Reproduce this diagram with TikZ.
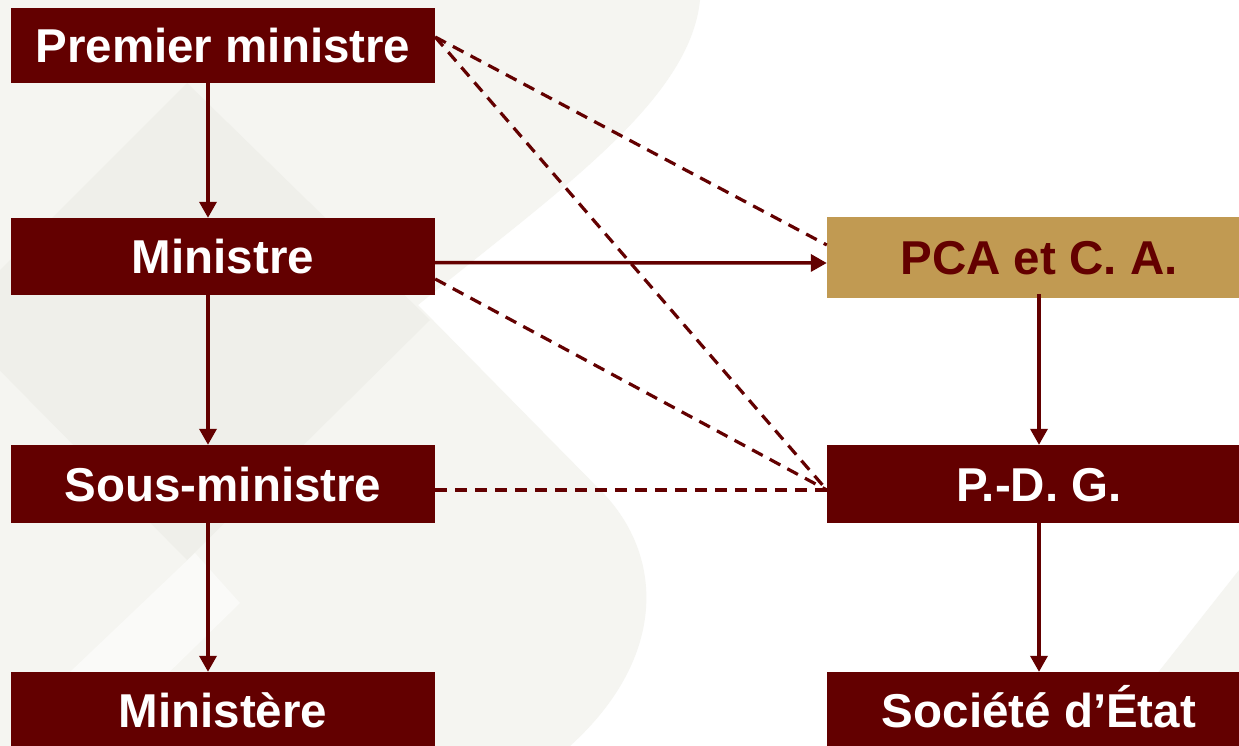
\documentclass[tikz,border=0pt]{standalone}
\usepackage{fontspec}
\setmainfont{Liberation Sans}
\usetikzlibrary{arrows.meta}
\definecolor{maroon}{RGB}{99,0,0}
\definecolor{tanfill}{RGB}{193,154,82}
\definecolor{bglight}{RGB}{245,245,241}
\definecolor{bgdark}{RGB}{239,239,234}
\begin{document}
\begin{tikzpicture}[x=1pt,y=-1pt,
  box/.style={rectangle, fill=maroon, text=white, minimum width=424pt,
    minimum height=76pt, inner sep=0pt, text height=34pt, text depth=0pt,
    font=\bfseries\fontsize{47.5}{56}\selectfont},
  tanbox/.style={box, fill=tanfill, text=maroon, minimum height=81pt},
  link/.style={draw=maroon, line width=3.5pt, -{Triangle[length=16pt,width=17pt]}},
  dlink/.style={draw=maroon, line width=3.2pt, dash pattern=on 12pt off 8pt}]
\useasboundingbox (0,0) rectangle (1239,746);
\fill[white] (0,0) rectangle (1239,746);
% faint watermark background
\fill[bglight] (0,0) -- (700,0) .. controls (690,100) and (560,190) .. (418,305)
  -- (605,495) .. controls (665,560) and (665,660) .. (570,746) -- (0,746) -- cycle;
\fill[bgdark] (187,83) -- (430,320) -- (187,560) -- (-50,320) -- cycle;
\fill[white!50!bglight] (195,553) -- (240,603) -- (110,730) -- (70,672) -- cycle;
\fill[bglight] (1239,570) -- (1100,746) -- (1239,746) -- cycle;
% nodes
\node[box, minimum height=75pt] (pm) at (223,45.5) {Premier ministre};
\node[box, minimum height=77pt] (min) at (223,256.5) {Ministre};
\node[box, minimum height=78pt] (sm) at (223,484) {Sous-ministre};
\node[box] (mre) at (223,710) {Ministère};
\node[tanbox] (pca) at (1039,257.5) {PCA et C. A.};
\node[box, minimum height=78pt] (pdg) at (1039,484) {P.-D. G.};
\node[box] (se) at (1039,710) {Société d’État};
% solid arrows
\draw[link] ([xshift=-15pt]pm.south) -- ([xshift=-15pt]min.north);
\draw[link] ([xshift=-15pt]min.south) -- ([xshift=-15pt]sm.north);
\draw[link] ([xshift=-15pt]sm.south) -- ([xshift=-15pt]mre.north);
\draw[link] ([yshift=-6pt]min.east) -- ([yshift=-5.5pt]pca.west);
\draw[link] ([yshift=4pt]pca.south) -- (pdg.north);
\draw[link] (pdg.south) -- (se.north);
% dashed links
\draw[dlink] ([yshift=8.5pt]pm.east) -- ([yshift=12.5pt]pca.west);
\draw[dlink] ([yshift=8.5pt]pm.east) -- ([yshift=-6pt]pdg.west);
\draw[dlink] ([yshift=-22.5pt]min.east) -- ([yshift=-6pt]pdg.west);
\draw[dlink] ([yshift=-6pt]sm.east) -- ([yshift=-6pt]pdg.west);
\end{tikzpicture}
\end{document}
